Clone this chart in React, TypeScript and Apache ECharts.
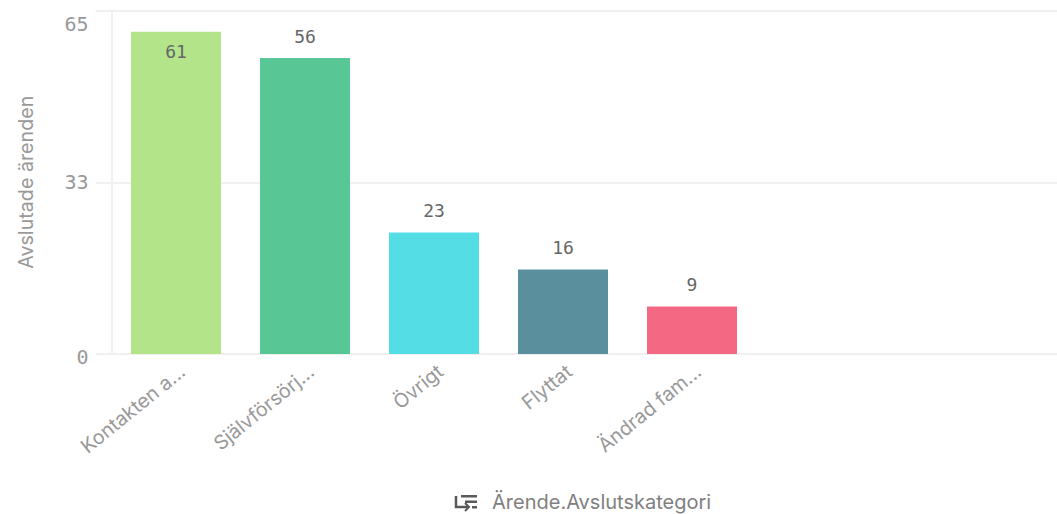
import React, { useEffect, useRef } from "react";
import * as echarts from "echarts";

const categories = ["Kontakten a...", "Självförsörj...", "Övrigt", "Flyttat", "Ändrad fam..."];
const values = [61, 56, 23, 16, 9];
const barColors = ["#b3e48a", "#59c696", "#55dde6", "#5a8f9d", "#f56884"];
const yAxisTitle = "Avslutade ärenden";
const xAxisTitle = "Ärende.Avslutskategori";
const yMax = 65;
const yStep = 32.5;

const NUM_FONT = "'DejaVu Sans Mono'";
const TEXT_FONT = "Inter, Roboto, sans-serif";
const GRID_LINE = "#f0f0f0";

export default function App() {
  const ref = useRef<HTMLDivElement>(null);
  useEffect(() => {
    const chart = echarts.init(ref.current!, undefined, { renderer: "svg" });
    chart.setOption({
      animation: false,
      backgroundColor: "#ffffff",
      grid: [
        { left: 111.5, top: 10.5, width: 645, height: 343.5 },
        { left: 111.5, top: 10.5, width: 945.5, height: 343.5 },
      ],
      xAxis: [
        {
          type: "category",
          gridIndex: 0,
          data: categories,
          axisLine: { show: false },
          axisTick: { show: false },
          axisLabel: {
            rotate: 39,
            interval: 0,
            margin: 7,
            verticalAlign: "top",
            color: "#999999",
            fontFamily: TEXT_FONT,
            fontSize: 19.7,
          },
        },
        {
          type: "category",
          gridIndex: 1,
          data: [],
          axisLine: { show: true, onZero: false, lineStyle: { color: GRID_LINE, width: 2 } },
          axisTick: { show: false },
          axisLabel: { show: false },
        },
      ],
      yAxis: [
        {
          type: "value",
          gridIndex: 0,
          min: 0,
          max: yMax,
          interval: yStep,
          axisLine: { show: false },
          axisTick: { show: false },
          axisLabel: { show: false },
          splitLine: { show: false },
        },
        {
          type: "value",
          gridIndex: 1,
          min: 0,
          max: yMax,
          interval: yStep,
          name: yAxisTitle,
          nameLocation: "middle",
          nameGap: 76,
          nameTextStyle: { color: "#999999", fontFamily: TEXT_FONT, fontSize: 19.7 },
          axisLine: { show: true, lineStyle: { color: GRID_LINE, width: 2 } },
          axisTick: { show: true, length: 16, lineStyle: { color: GRID_LINE, width: 2 } },
          axisLabel: {
            margin: 23,
            color: "#999999",
            fontFamily: NUM_FONT,
            fontSize: 20,
            verticalAlignMaxLabel: "top",
            formatter: (v: number) =>
              v === 0 ? "{zero|0}" : v === yMax ? "{top|65}" : String(Math.round(v)),
            rich: {
              zero: { padding: [6, 0, 0, 0], color: "#999999", fontFamily: NUM_FONT, fontSize: 20 },
              top: { padding: [3, 0, 0, 0], color: "#999999", fontFamily: NUM_FONT, fontSize: 20 },
            },
          },
          splitLine: { show: true, lineStyle: { color: GRID_LINE, width: 2 } },
        },
      ],
      series: [
        {
          type: "bar",
          xAxisIndex: 0,
          yAxisIndex: 0,
          barWidth: 90,
          z: 3,
          data: values.map((value, i) => ({
            value,
            itemStyle: { color: barColors[i] },
            label: {
              show: true,
              position: i === 0 ? "insideTop" : "top",
              distance: i === 0 ? 11 : 13,
              color: "#666666",
              fontFamily: NUM_FONT,
              fontSize: 18,
            },
          })),
        },
      ],
      graphic: [
        { type: "polyline", shape: { points: [[456, 496], [456, 507], [468, 507]] }, style: { stroke: "#595959", lineWidth: 2.5, fill: "none" } },
        { type: "polyline", shape: { points: [[465, 503], [469, 507], [465, 511]] }, style: { stroke: "#595959", lineWidth: 2, fill: "none" } },
        { type: "rect", shape: { x: 461, y: 495, width: 16, height: 2.5 }, style: { fill: "#595959" } },
        { type: "rect", shape: { x: 465, y: 500.5, width: 12, height: 2.5 }, style: { fill: "#595959" } },
        { type: "rect", shape: { x: 472, y: 506, width: 5, height: 2.5 }, style: { fill: "#595959" } },
        {
          type: "text",
          x: 492,
          y: 502,
          style: {
            text: xAxisTitle,
            fill: "#808080",
            font: `20px ${TEXT_FONT}`,
            textVerticalAlign: "middle",
          },
        },
      ],
    });
    return () => chart.dispose();
  }, []);
  return (
    <div
      ref={ref}
      style={{ position: "fixed", left: 0, top: 0, width: 1057, height: 514, background: "#fff" }}
    />
  );
}
